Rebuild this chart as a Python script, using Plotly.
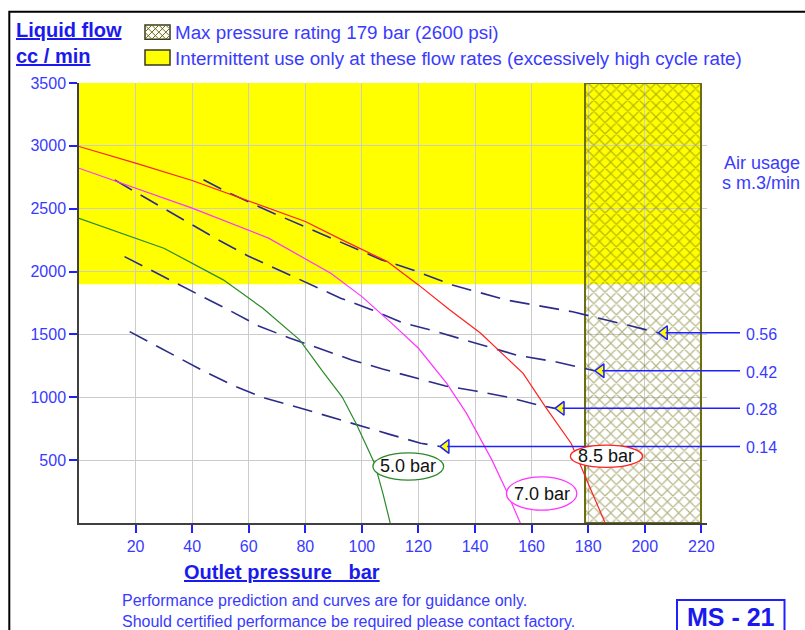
import plotly.graph_objects as go

# ---------------- data ----------------
red_x = [0, 20, 40, 60, 80, 93, 109, 120, 131, 142, 150, 157, 165, 174, 180.5, 186]
red_y = [2995, 2863, 2724, 2560, 2398, 2252, 2079, 1894, 1696, 1509, 1335, 1190, 920, 633, 288, 0]

mag_x = [0, 20, 40, 67, 89, 100, 110, 120, 130, 137, 146, 151, 156]
mag_y = [2822, 2665, 2505, 2266, 1987, 1801, 1600, 1390, 1111, 872, 500, 260, 0]

grn_x = [0, 20, 30, 51, 65, 78, 86, 93, 98, 104.5, 107.5, 110]
grn_y = [2424, 2266, 2186, 1934, 1708, 1457, 1210, 1004, 790, 474, 230, 0]

a56_x = [44, 52, 66, 85, 107, 118, 132, 151, 174.5, 190.6, 204.7]
a56_y = [2730, 2637, 2491, 2305, 2093, 2013, 1894, 1774, 1680, 1592, 1514]

a42_x = [12.6, 26.7, 37.9, 48.6, 59.6, 70.6, 81.5, 92.5, 103.4, 114.4, 125.3, 136.7, 154.6, 168.8, 182.3]
a42_y = [2729, 2546, 2405, 2260, 2126, 2013, 1902, 1788, 1697, 1593, 1529, 1456, 1336, 1281, 1211]

a28_x = [16.1, 31, 41.8, 52.9, 63.5, 74.4, 85.4, 96.4, 107.3, 118.3, 129.6, 140.2, 151.5, 162.5, 168.2]
a28_y = [2119, 1944, 1822, 1695, 1567, 1472, 1384, 1297, 1225, 1161, 1090, 1050, 1002, 938, 912]

a14_x = [17.9, 32.9, 43.7, 54.7, 65.6, 76.6, 87.6, 98.5, 109.5, 120.8, 127.5]
a14_y = [1522, 1344, 1213, 1092, 994, 925, 851, 779, 707, 635, 609]

air_labels = ["0.56", "0.42", "0.28", "0.14"]
curve_labels = ["5.0 bar", "7.0 bar", "8.5 bar"]
# ellipse boxes (x0, x1, y0, y1) in data units
ell_boxes = [(103.9, 128.9, 341, 558), (151.1, 176.0, 102, 367), (173.7, 199.2, 442, 620)]

x_ticks = [20, 40, 60, 80, 100, 120, 140, 160, 180, 200, 220]
y_ticks = [500, 1000, 1500, 2000, 2500, 3000, 3500]

max_p = 179
x_max = 220
interm_flow = 1900
y_top = 3500

# ---------------- layout helpers ----------------
OFF = 0  # page body margin removed by post_script
W, H = 805, 630
ML, MR, MT, MB = 79, 98, 83, 107
L, R, T, B = ML, W - MR, MT, H - MB
XR = [0, 222]
YR = [0, 3500]
FONT = "Liberation Sans, Arial, sans-serif"
BLUE = "#3a3aff"
DBLUE = "#1a1aee"
OLIVE = "#6e6e10"


def pxx(xp):
    return (xp - OFF - L) / (R - L)


def pxy(yp):
    return (B - (yp - OFF)) / (B - T)


def dx2p(x):
    return (x - XR[0]) / (XR[1] - XR[0])


def dy2p(y):
    return (y - YR[0]) / (YR[1] - YR[0])


fig = go.Figure()

# hatched max-pressure zone
fig.add_trace(go.Bar(
    x=[(max_p + x_max) / 2], y=[y_top], base=[0], width=[x_max - max_p],
    marker=dict(color="rgba(0,0,0,0)", line=dict(color=OLIVE, width=2),
                pattern=dict(shape="x", fgcolor=OLIVE, bgcolor="rgba(0,0,0,0)",
                             size=8, solidity=0.28, fillmode="overlay")),
    hoverinfo="skip", showlegend=False))

dash_col = "#2b2b8c"
for xs, ys in [(a56_x, a56_y), (a42_x, a42_y), (a28_x, a28_y), (a14_x, a14_y)]:
    fig.add_trace(go.Scatter(x=xs, y=ys, mode="lines",
                             line=dict(color=dash_col, width=1.6, dash="20px,10px"),
                             hoverinfo="skip", showlegend=False))

fig.add_trace(go.Scatter(x=grn_x, y=grn_y, mode="lines", line=dict(color="#2a8a2a", width=1.2),
                         showlegend=False))
fig.add_trace(go.Scatter(x=mag_x, y=mag_y, mode="lines", line=dict(color="#ff33ff", width=1.2),
                         showlegend=False))
fig.add_trace(go.Scatter(x=red_x, y=red_y, mode="lines", line=dict(color="#ff2020", width=1.2),
                         showlegend=False))

# arrow heads at ends of air usage lines
tips_x = [s[-1] for s in (a56_x, a42_x, a28_x, a14_x)]
tips_y = [s[-1] for s in (a56_y, a42_y, a28_y, a14_y)]
fig.add_trace(go.Scatter(x=[v + 2.2 for v in tips_x], y=tips_y, mode="markers",
                         marker=dict(symbol="triangle-left", size=12, color="#ffff00",
                                     line=dict(color="#2020ff", width=1.5)),
                         cliponaxis=False, showlegend=False, hoverinfo="skip"))

shapes = []
annotations = []

# yellow intermittent zone (below gridlines)
shapes.append(dict(type="rect", xref="x", yref="y", x0=0, x1=x_max, y0=interm_flow, y1=y_top,
                   fillcolor="#ffff00", line=dict(width=0), layer="below"))

# horizontal leader lines to air-usage labels
for tx, ty, lab in zip(tips_x, tips_y, air_labels):
    yp = dy2p(ty)
    shapes.append(dict(type="line", xref="paper", yref="paper", x0=dx2p(tx) + 0.012, x1=pxx(740),
                       y0=yp, y1=yp, line=dict(color="#2020ff", width=1.5)))
    annotations.append(dict(xref="paper", yref="paper", x=pxx(744), y=yp, xanchor="left",
                            yanchor="middle", yshift=-1.5, text=lab, showarrow=False,
                            font=dict(size=16, color=BLUE, family=FONT)))

# ellipses with pressure labels
ell_cols = ["#2a8a2a", "#ff33ff", "#ff2020"]
for (x0, x1, y0, y1), col, lab in zip(ell_boxes, ell_cols, curve_labels):
    shapes.append(dict(type="circle", xref="x", yref="y", x0=x0, x1=x1, y0=y0, y1=y1,
                       fillcolor="white", line=dict(color=col, width=1.3), layer="above"))
    annotations.append(dict(xref="x", yref="y", x=(x0 + x1) / 2, y=(y0 + y1) / 2, text=lab,
                            showarrow=False, font=dict(size=18, color="#111111", family=FONT)))

# outer frame
shapes.append(dict(type="rect", xref="paper", yref="paper", x0=pxx(9.3), x1=pxx(830),
                   y0=pxy(660), y1=pxy(11.7), line=dict(color="black", width=2),
                   fillcolor="rgba(0,0,0,0)"))

# legend boxes
hb = (145, 170, 25, 39.3)
shapes.append(dict(type="rect", xref="paper", yref="paper", x0=pxx(hb[0]), x1=pxx(hb[1]),
                   y0=pxy(hb[3]), y1=pxy(hb[2]), fillcolor="white",
                   line=dict(color="#3a3a1a", width=1.5)))
# cross hatch inside legend box
hh = hb[3] - hb[2]
path = ""
step = 7
k = -hh
while k < (hb[1] - hb[0]):
    for sgn in (1, -1):
        xa, ya = hb[0] + k, hb[2]
        xb, yb = xa + hh, hb[3]
        if sgn == -1:
            xa, xb = xb, xa
        pts = []
        for t in [i / 40 for i in range(41)]:
            xx = xa + (xb - xa) * t
            yy = ya + (yb - ya) * t
            if hb[0] + 0.8 <= xx <= hb[1] - 0.8:
                pts.append((xx, yy))
        if len(pts) >= 2:
            (p0x, p0y), (p1x, p1y) = pts[0], pts[-1]
            path += f"M{pxx(p0x):.5f},{pxy(p0y):.5f} L{pxx(p1x):.5f},{pxy(p1y):.5f} "
    k += step
shapes.append(dict(type="path", xref="paper", yref="paper", path=path,
                   line=dict(color=OLIVE, width=1)))
shapes.append(dict(type="rect", xref="paper", yref="paper", x0=pxx(145), x1=pxx(170),
                   y0=pxy(65), y1=pxy(50), fillcolor="#ffff00",
                   line=dict(color="#3a3a1a", width=1.5)))

# MS-21 box
shapes.append(dict(type="rect", xref="paper", yref="paper", x0=pxx(677), x1=pxx(784.5),
                   y0=pxy(650), y1=pxy(600), line=dict(color="#2020ff", width=2),
                   fillcolor="white"))


def ann(xp, yp, text, size, color=BLUE, bold=False, anchor="left"):
    annotations.append(dict(xref="paper", yref="paper", x=pxx(xp), y=pxy(yp), text=text,
                            showarrow=False, xanchor=anchor, yanchor="middle", align=anchor,
                            font=dict(size=size, color=color, family=FONT,
                                      weight="bold" if bold else "normal")))


ann(14, 30, "<u>Liquid flow</u>", 20, DBLUE, True)
ann(14, 56, "<u>cc / min</u>", 20, DBLUE, True)
ann(173, 32.3, "Max pressure rating 179 bar (2600 psi)", 18.8)
ann(173, 58.3, "Intermittent use only at these flow rates (excessively high cycle rate)", 18.8)
ann(802, 162.7, "Air usage", 18, anchor="right")
ann(802, 182.7, "s m.3/min", 18, anchor="right")
ann(182, 572, "<u>Outlet pressure\u00a0\u00a0\u00a0bar</u>", 20, DBLUE, True)
ann(120, 600, "Performance prediction and curves are for guidance only.", 16)
ann(120, 621, "Should certified performance be required please contact factory.", 16)
ann(730.5, 617, "MS - 21", 25, DBLUE, True, anchor="center")

fig.update_layout(
    width=W, height=H,
    margin=dict(l=ML, r=MR, t=MT, b=MB, autoexpand=False),
    plot_bgcolor="white", paper_bgcolor="white",
    showlegend=False, bargap=0,
    font=dict(family=FONT, color=BLUE),
    shapes=shapes, annotations=annotations,
    xaxis=dict(range=XR, tickvals=x_ticks, ticks="outside", ticklen=8, tickwidth=1.5,
               tickcolor="#2020ff", tickfont=dict(size=16, color=BLUE, family=FONT),
               showgrid=True, gridcolor="#cccccc", gridwidth=1, showline=True,
               linecolor="#404040", linewidth=1.5, zeroline=False, automargin=False),
    yaxis=dict(range=YR, tickvals=y_ticks, ticks="outside", ticklen=8, tickwidth=1.5,
               tickcolor="#2020ff", tickfont=dict(size=16, color=BLUE, family=FONT),
               showgrid=True, gridcolor="#cccccc", gridwidth=1, showline=True,
               linecolor="#404040", linewidth=1.5, zeroline=False, automargin=False),
)

fig.write_html("out.html", config={"displayModeBar": False},
               post_script="document.body.style.margin='0px';document.body.style.overflow='hidden';")
